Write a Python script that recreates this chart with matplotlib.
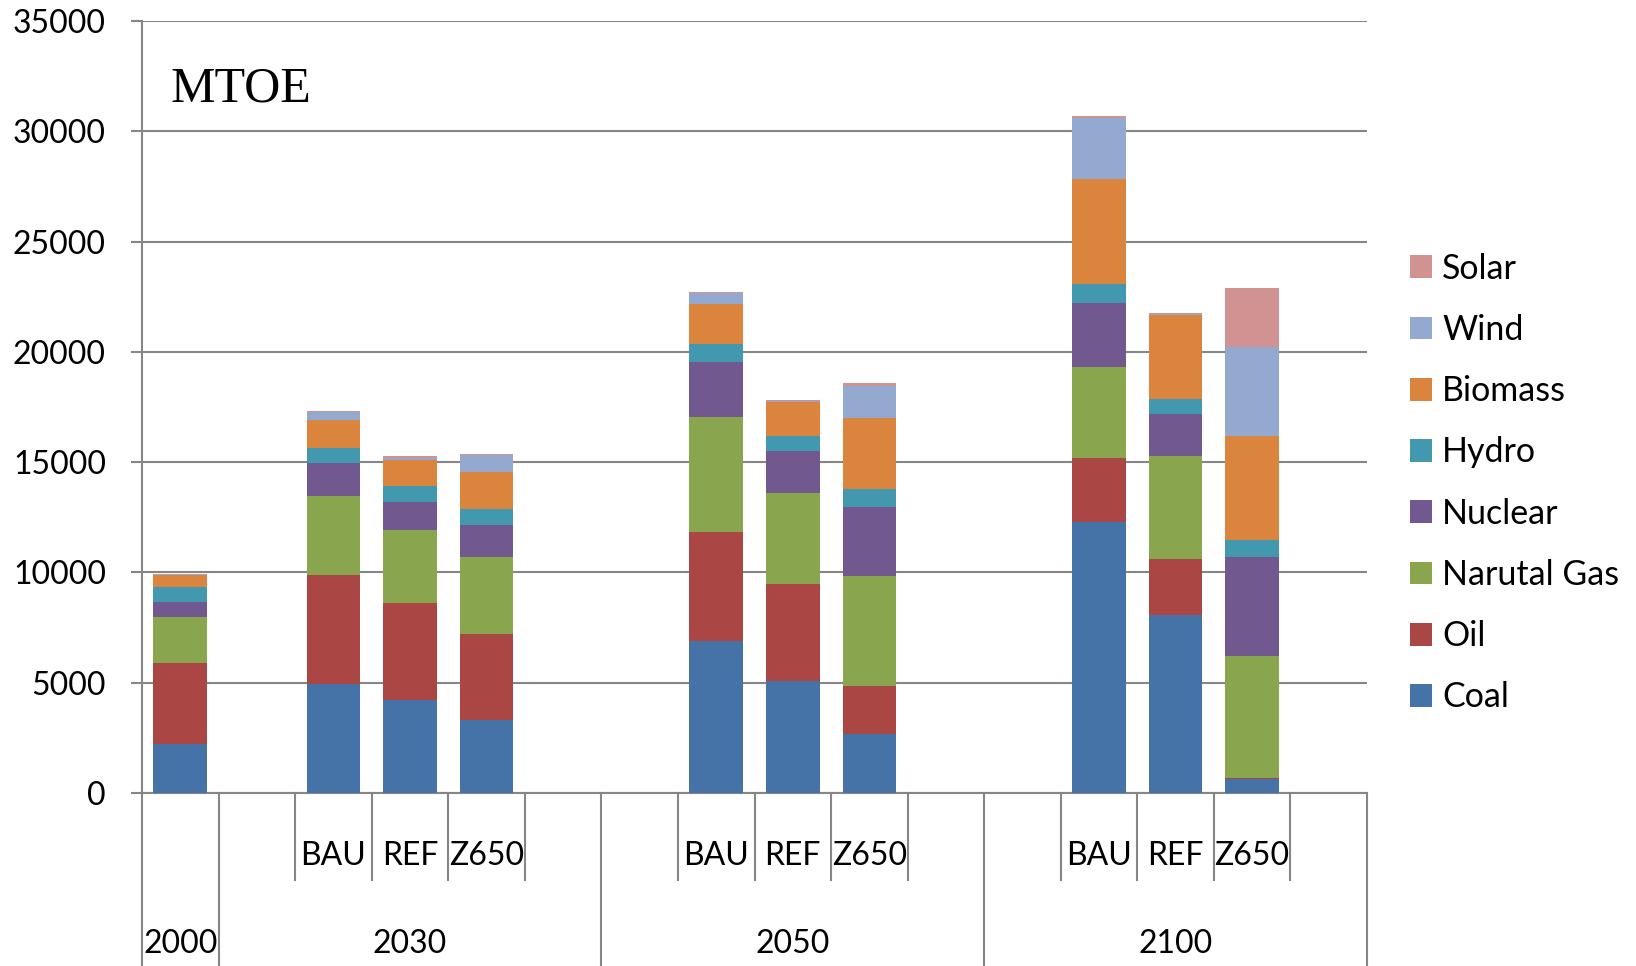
import matplotlib
matplotlib.use("Agg")
import matplotlib.pyplot as plt
import matplotlib.transforms as mtransforms
from matplotlib.patches import Patch

# ---------------- data ----------------
years = ["2000", "2030", "2050", "2100"]
scenarios = ["BAU", "REF", "Z650"]
# bar order: 2000, 2030 BAU/REF/Z650, 2050 BAU/REF/Z650, 2100 BAU/REF/Z650
coal    = [2200, 4950, 4200, 3300, 6880, 5080, 2660, 12280, 8050, 620]
oil     = [3700, 4920, 4400, 3900, 4960, 4390, 2200, 2930, 2540, 80]
gas     = [2100, 3590, 3340, 3490, 5190, 4110, 4970, 4110, 4680, 5500]
nuclear = [650, 1480, 1250, 1480, 2500, 1940, 3150, 2910, 1890, 4480]
hydro   = [700, 720, 710, 720, 830, 680, 800, 830, 720, 800]
biomass = [550, 1270, 1210, 1660, 1830, 1530, 3240, 4780, 3800, 4720]
wind    = [15, 330, 70, 780, 470, 40, 1420, 2770, 40, 4020]
solar   = [35, 80, 80, 60, 60, 40, 150, 80, 60, 2670]

series_names = ["Coal", "Oil", "Narutal Gas", "Nuclear", "Hydro", "Biomass", "Wind", "Solar"]
series_vals = [coal, oil, gas, nuclear, hydro, biomass, wind, solar]
colors = ["#4572A7", "#AA4643", "#89A54E", "#71588F", "#4198AF", "#DB843D", "#93A9CF", "#D19392"]

# ---------------- category layout (Excel multi-level axis) ----------------
# 2000 has a single slot; other years have: empty, BAU, REF, Z650, empty
slot_sub = [""]            # sub labels per slot
slot_group = [0]
for gi in range(1, len(years)):
    for s in [""] + scenarios + [""]:
        slot_sub.append(s)
        slot_group.append(gi)
nslots = len(slot_sub)
bar_slots = [0] + [i for i, s in enumerate(slot_sub) if s]

plt.rcParams["font.family"] = ["Lato", "DejaVu Sans"]
fig = plt.figure(figsize=(16.36, 9.66), dpi=100)
ax = fig.add_axes([142/1636, 1-793/966, 1225/1636, 772/966])

grid_c = "#868686"
bottom = [0]*len(coal)
handles = []
for name, vals, c in zip(series_names, series_vals, colors):
    ax.bar(bar_slots, vals, width=0.7, bottom=bottom, color=c, edgecolor="none", zorder=3)
    bottom = [b + v for b, v in zip(bottom, vals)]
    handles.append(Patch(facecolor=c, edgecolor="none", label=name))

ax.set_xlim(-0.5, nslots - 0.5)
ax.set_ylim(0, 35000)
ax.set_yticks(range(0, 35001, 5000))
ax.yaxis.grid(True, color=grid_c, linewidth=1.5, zorder=0)
ax.set_axisbelow(True)
ax.tick_params(axis="y", direction="out", length=8, width=1.5, color=grid_c,
               pad=18, labelsize=23)
ax.set_xticks([])
for sp in ["top", "right", "left"]:
    ax.spines[sp].set_visible(False)
ax.spines["bottom"].set_color(grid_c)
ax.spines["bottom"].set_linewidth(1.5)

trans = mtransforms.blended_transform_factory(ax.transData, ax.transAxes)
fig_bottom = -173/772
inner_bottom = -87/772

# left axis line extending through category area
ax.plot([-0.5, -0.5], [fig_bottom, 1.0], transform=trans, color=grid_c, lw=1.5,
        clip_on=False, zorder=4)

# group boundaries and inner separators
for b in range(1, nslots + 1):
    x = b - 0.5
    left_g = slot_group[b-1]
    right_g = slot_group[b] if b < nslots else None
    if right_g != left_g:
        ax.plot([x, x], [fig_bottom, 0], transform=trans, color=grid_c, lw=1.5, clip_on=False)
    else:
        if slot_sub[b-1] or slot_sub[b]:
            ax.plot([x, x], [inner_bottom, 0], transform=trans, color=grid_c, lw=1.5, clip_on=False)

# sub labels
for i, s in enumerate(slot_sub):
    if s:
        ax.text(i, -63/772, s, transform=trans, ha="center", va="center", fontsize=23)
# year labels
for gi, y in enumerate(years):
    slots = [i for i, g in enumerate(slot_group) if g == gi]
    xc = (slots[0] + slots[-1]) / 2
    ax.text(xc, -151/772, y, transform=trans, ha="center", va="center", fontsize=23)

ax.text(28/1225, (793-101)/772, "MTOE", transform=ax.transAxes, ha="left", va="baseline",
        fontsize=36, family=["Liberation Serif", "DejaVu Serif"])

fig.legend(handles=handles[::-1], loc="center left", bbox_to_anchor=(1410/1636, 1-483/966),
           frameon=False, fontsize=24.5, handlelength=0.65, handleheight=0.65,
           handletextpad=0.3, labelspacing=0.86, borderpad=0, borderaxespad=0)

fig.savefig("out.png", dpi=100)
